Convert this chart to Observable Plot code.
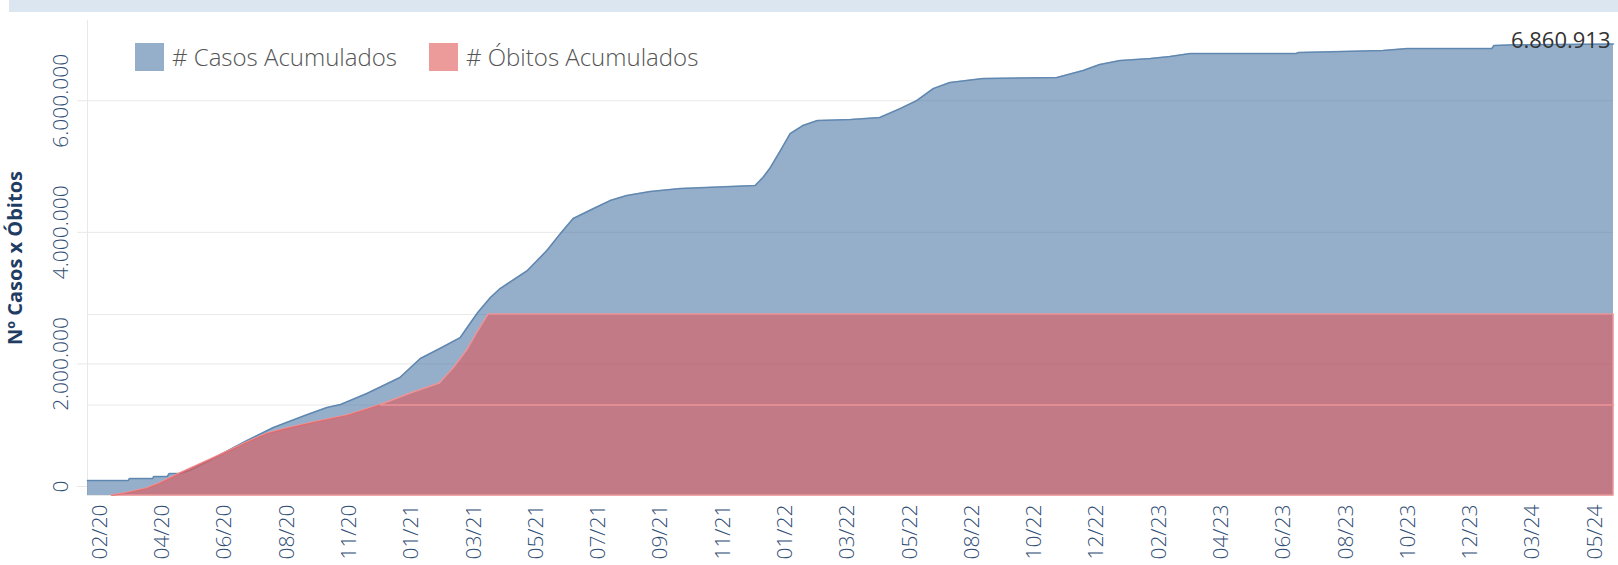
<!DOCTYPE html>
<html><head><meta charset="utf-8">
<script src="https://cdn.jsdelivr.net/npm/d3@7"></script>
<script src="https://cdn.jsdelivr.net/npm/@observablehq/plot@0.6"></script>
<style>
html,body{margin:0;padding:0;background:#fff;overflow:hidden;}
#wrap{position:relative;width:1618px;height:565px;font-family:"Open Sans",sans-serif;}
#chart{position:absolute;left:0;top:0;}
#banner{position:absolute;left:9px;top:0;right:0;height:12px;background:#dce6f1;}
.lg{position:absolute;top:40px;display:flex;align-items:center;font-size:24px;color:#555;font-weight:300;white-space:nowrap;}
.sw{width:29px;height:28px;margin-right:8px;}
</style></head>
<body><div id="wrap"><div id="chart"></div><div id="banner"></div><div id="legend"></div></div>
<script>
// ---- data ----
const casosDatas = ["2020-02-07","2020-03-20","2020-03-21","2020-04-14","2020-04-15","2020-04-29","2020-05-01","2020-05-12","2020-05-22","2020-06-15","2020-07-20","2020-08-16","2020-09-20","2020-10-10","2020-10-24","2020-11-20","2020-12-24","2021-01-14","2021-02-03","2021-02-24","2021-03-06","2021-03-14","2021-03-27","2021-04-06","2021-04-23","2021-05-04","2021-05-24","2021-06-07","2021-06-20","2021-07-11","2021-07-28","2021-08-14","2021-09-07","2021-10-08","2021-11-28","2021-12-24","2022-01-01","2022-01-08","2022-01-19","2022-01-29","2022-02-11","2022-02-26","2022-04-01","2022-05-01","2022-05-22","2022-06-08","2022-06-25","2022-07-12","2022-08-15","2022-10-30","2022-11-26","2022-12-13","2023-01-03","2023-02-03","2023-02-23","2023-03-16","2023-07-03","2023-07-05","2023-09-30","2023-10-25","2024-01-20","2024-01-22","2024-02-12","2024-05-24"];
const casosValores = [228000,228000,258000,258000,289000,289000,334000,334000,380000,562000,836000,1033000,1231000,1337000,1383000,1550000,1793000,2082000,2234000,2401000,2614000,2781000,3009000,3146000,3313000,3419000,3723000,3982000,4210000,4362000,4483000,4559000,4620000,4666000,4696000,4711000,4833000,4970000,5243000,5502000,5623000,5699000,5714000,5745000,5881000,6003000,6185000,6277000,6337000,6353000,6459000,6550000,6611000,6641000,6672000,6717000,6717000,6733000,6763000,6793000,6793000,6839000,6852000,6860913];

const obitosDatas = ["2020-03-03","2020-03-16","2020-04-08","2020-04-21","2020-05-12","2020-06-15","2020-07-20","2020-08-10","2020-08-30","2020-09-26","2020-10-31","2020-12-04","2021-01-07","2021-02-03","2021-02-17","2021-03-03","2021-03-13","2021-03-25","2024-05-24"];
const obitosValores = [0,2200,7700,13300,24300,40900,58600,68500,74000,80700,88400,100000,113800,123800,140300,160200,179000,200000,200000];

const obitosPatamarDatas = ["2020-12-04","2024-05-24"];
const obitosPatamarValores = [100000,100000];

const yTicks = [0,2000000,4000000,6000000];
const obitosGridTicks = [100000,200000];
const xTickLabels = ["02/20","04/20","06/20","08/20","11/20","01/21","03/21","05/21","07/21","09/21","11/21","01/22","03/22","05/22","08/22","10/22","12/22","02/23","04/23","06/23","08/23","10/23","12/23","03/24","05/24"];
const legendLabels = ["# Casos Acumulados","# Óbitos Acumulados"];
const yTitle = "Nº Casos x Óbitos";

// ---- scales / helpers ----
const Y_MAX = 7220000;          // primary (casos) axis max
const OBITOS_AXIS_MAX = 525000; // hidden secondary axis max
const k = Y_MAX / OBITOS_AXIS_MAX;
const parse = d3.utcParse("%Y-%m-%d");
const xDomain = [parse("2020-02-07"), parse("2024-05-24")];
const fmt = d3.formatLocale({decimal:",", thousands:".", grouping:[3], currency:["R$",""]}).format(",d");

const casos = casosDatas.map((d,i)=>({date:parse(d), value:casosValores[i]}));
const obitos = obitosDatas.map((d,i)=>({date:parse(d), value:obitosValores[i]}));
const obitosPatamar = obitosPatamarDatas.map((d,i)=>({date:parse(d), value:obitosPatamarValores[i]}));

const tickStart = parse("2020-02-20");
const xTicks = xTickLabels.map((l,i)=>d3.utcDay.offset(tickStart, 64*i));
const labelMap = new Map(xTicks.map((t,i)=>[+t, xTickLabels[i]]));

const BLUE = "#4e79a7", RED = "#e15759", RED_EDGE = "#ec9497", TICK = "#2f4d74";

const chart = Plot.plot({
  width:1618, height:565,
  marginLeft:87, marginRight:5, marginTop:20, marginBottom:70,
  style:{fontFamily:"'Open Sans', sans-serif", background:"transparent"},
  x:{type:"utc", domain:xDomain},
  y:{domain:[0, Y_MAX]},
  marks:[
    Plot.gridY(yTicks, {stroke:"#e8e8e8", strokeOpacity:1}),
    Plot.gridY(obitosGridTicks.map(v=>v*k), {stroke:"#e8e8e8", strokeOpacity:1}),
    Plot.ruleX([xDomain[0]], {stroke:"#e8e8e8"}),
    Plot.areaY(casos, {x:"date", y:"value", fill:BLUE, fillOpacity:0.6}),
    Plot.lineY(casos, {x:"date", y:"value", stroke:BLUE, strokeOpacity:0.75, strokeWidth:1.5}),
    Plot.areaY(obitos, {x:"date", y:d=>d.value*k, fill:RED, fillOpacity:0.6, stroke:RED_EDGE, strokeWidth:1.5}),
    Plot.lineY(obitos.slice(0,12), {x:"date", y:d=>d.value*k, stroke:RED, strokeOpacity:0.6, strokeWidth:1.2}),
    Plot.lineY(obitosPatamar, {x:"date", y:d=>d.value*k, stroke:RED_EDGE, strokeWidth:1.5}),
    Plot.axisY(yTicks.slice(1), {tickRotate:-90, tickSize:10, tickPadding:10, stroke:"#e8e8e8", fill:TICK, fontSize:21, fontWeight:300, tickFormat:fmt, label:null}),
    Plot.axisY(yTicks.slice(0,1), {tickRotate:-90, tickSize:10, tickPadding:10, stroke:"#e8e8e8", fill:TICK, fontSize:21, fontWeight:300, tickFormat:fmt, label:null, dy:-9}),
    Plot.axisX(xTicks, {tickRotate:-90, tickSize:0, tickPadding:9, fill:TICK, fontSize:21, fontWeight:300, tickFormat:d=>labelMap.get(+d), label:null}),
    Plot.text([yTitle], {frameAnchor:"left", rotate:-90, dx:-72, textAnchor:"middle", fontWeight:"bold", fontSize:20, fill:"#1f3d63"}),
    Plot.text(casos.slice(-1), {x:"date", y:"value", text:d=>fmt(d.value), textAnchor:"end", dx:-3, dy:-3, fontSize:22, fill:"#333"})
  ]
});
document.getElementById("chart").appendChild(chart);

// legend overlay
const legendLeft = [135, 429];
const legendColors = [BLUE, RED];
const lg = document.getElementById("legend");
legendLabels.forEach((t,i)=>{
  const el = document.createElement("div");
  el.className = "lg";
  el.style.left = legendLeft[i] + "px";
  el.innerHTML = `<div class="sw" style="background:${legendColors[i]};opacity:0.6"></div><span>${t}</span>`;
  lg.appendChild(el);
});
</script>
</body></html>
